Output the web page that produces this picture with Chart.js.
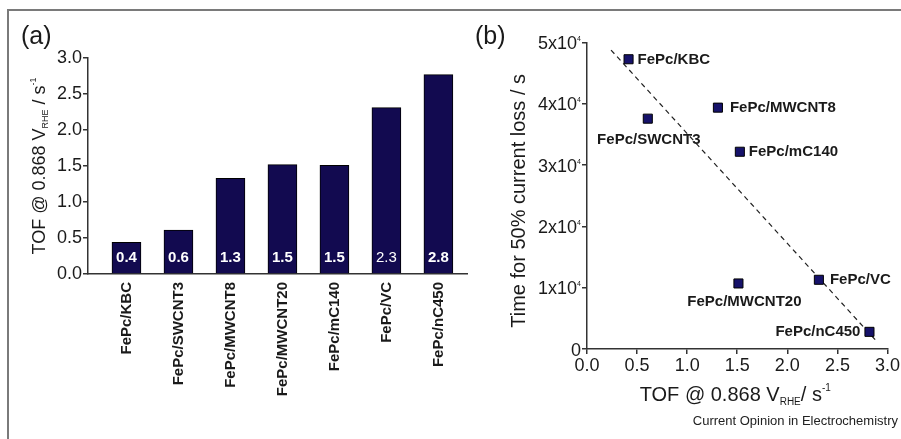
<!DOCTYPE html>
<html>
<head>
<meta charset="utf-8">
<script src="https://cdn.jsdelivr.net/npm/chart.js@4/dist/chart.umd.min.js"></script>
<style>
  html, body { margin: 0; padding: 0; background: #fff; }
  #page { position: relative; width: 901px; height: 439px; overflow: hidden; }
  #frame { position: absolute; left: 7px; top: 9px; width: 900px; height: 440px;
           border-top: 2px solid #7a7a7a; border-left: 2px solid #7a7a7a; }
  canvas { position: absolute; top: 0; }
  #chartA { left: 0; }
  #chartB { left: 480px; }
  .txt { position: absolute; font-family: "Liberation Sans", Arial, sans-serif; color: #1a1a1a; }
</style>
</head>
<body>
<div id="page">
  <div id="frame"></div>
  <canvas id="chartA" width="480" height="439"></canvas>
  <canvas id="chartB" width="421" height="439"></canvas>
  <div class="txt" style="left:21px; top:21px; font-size:25px;">(a)</div>
  <div class="txt" style="left:475px; top:21px; font-size:25px;">(b)</div>
  <div class="txt" style="right:3px; top:413px; font-size:13px; color:#222;">Current Opinion in Electrochemistry</div>
</div>
<script>
// panel (a): TOF per catalyst
const categories = ["FePc/KBC", "FePc/SWCNT3", "FePc/MWCNT8", "FePc/MWCNT20", "FePc/mC140", "FePc/VC", "FePc/nC450"];
const tofBar = [0.44, 0.61, 1.33, 1.52, 1.51, 2.31, 2.77];
const barLabels = ["0.4", "0.6", "1.3", "1.5", "1.5", "2.3", "2.8"];

// panel (b): stability vs TOF (same order as categories)
const scatterTof = [0.415, 0.607, 1.307, 1.512, 1.526, 2.315, 2.82];
const lifetime = [47300, 37600, 39400, 10700, 32200, 11300, 2800];
const fitTof = [0.24, 2.9];
const fitLife = [48800, 1100];

const yTicksA = [0, 0.5, 1.0, 1.5, 2.0, 2.5, 3.0];
const xTicksB = [0, 0.5, 1.0, 1.5, 2.0, 2.5, 3.0];
const yTicksB = [0, 10000, 20000, 30000, 40000, 50000];

const FONT = '"Liberation Sans", Arial, sans-serif';
const INK = "#1a1a1a";
const NAVY = "#120a50";

// draw text made of parts (sub/superscripts), left to right from x
function richWidth(ctx, parts) {
    let w = 0;
    parts.forEach(p => {
        ctx.font = (p.bold ? "bold " : "") + p.size + "px " + FONT;
        w += ctx.measureText(p.t).width;
    });
    return w;
}
function drawRich(ctx, parts, x, y, align) {
    let w = richWidth(ctx, parts);
    let cx = align === "center" ? x - w / 2 : (align === "right" ? x - w : x);
    ctx.textAlign = "left";
    ctx.textBaseline = "alphabetic";
    parts.forEach(p => {
        ctx.font = (p.bold ? "bold " : "") + p.size + "px " + FONT;
        ctx.fillText(p.t, cx, y + (p.dy || 0));
        cx += ctx.measureText(p.t).width;
    });
}

const barText = {
    id: "barText",
    afterDraw(chart) {
        const ctx = chart.ctx;
        const yScale = chart.scales.y;
        const meta = chart.getDatasetMeta(0);
        const bold = [true, true, true, true, true, false, true];
        ctx.save();
        ctx.fillStyle = "#fff";
        ctx.textAlign = "center";
        ctx.textBaseline = "middle";
        meta.data.forEach((el, i) => {
            ctx.font = (bold[i] ? "bold " : "") + "15px " + FONT;
            ctx.fillText(barLabels[i], el.x, yScale.getPixelForValue(0) - 16.5);
        });
        // y axis title
        ctx.fillStyle = INK;
        const area = chart.chartArea;
        ctx.translate(45, (area.top + area.bottom) / 2);
        ctx.rotate(-Math.PI / 2);
        drawRich(ctx, [
            {t: "TOF @ 0.868 V", size: 18},
            {t: "RHE", size: 9, dy: 3},
            {t: " / s", size: 18},
            {t: "-1", size: 9, dy: -9}
        ], 0, 0, "center");
        ctx.restore();
    }
};

new Chart(document.getElementById("chartA"), {
    type: "bar",
    data: {
        datasets: [{
            data: tofBar.map((v, i) => ({x: i, y: v})),
            backgroundColor: NAVY,
            borderColor: "#000",
            borderWidth: 1,
            barThickness: 29
        }]
    },
    options: {
        responsive: false,
        animation: false,
        layout: {padding: {left: 0, top: 58, right: 13, bottom: 0}},
        plugins: {legend: {display: false}, tooltip: {enabled: false}},
        scales: {
            x: {
                type: "linear",
                offset: false,
                min: -0.74,
                max: 6.55,
                afterFit: s => { s.height = 439 - 274; },
                afterBuildTicks: s => { s.ticks = categories.map((c, i) => ({value: i})); },
                grid: {display: false},
                border: {color: "#333", width: 1.5},
                ticks: {
                    autoSkip: false,
                    minRotation: 90,
                    maxRotation: 90,
                    padding: 0,
                    color: INK,
                    font: {family: FONT, size: 15, weight: "bold"},
                    callback: v => categories[v]
                }
            },
            y: {
                min: 0,
                max: 3,
                afterFit: s => { s.width = 88; },
                afterBuildTicks: s => { s.ticks = yTicksA.map(v => ({value: v})); },
                grid: {drawOnChartArea: false, tickLength: 5, color: "#333", lineWidth: 1.5},
                border: {color: "#333", width: 1.5},
                ticks: {
                    padding: 1,
                    color: INK,
                    font: {family: FONT, size: 18},
                    callback: v => v.toFixed(1)
                }
            }
        }
    },
    plugins: [barText]
});

const scatterText = {
    id: "scatterText",
    afterDraw(chart) {
        const ctx = chart.ctx;
        const meta = chart.getDatasetMeta(0);
        // where each point label sits relative to its marker
        const place = [
            {side: "right", d: 9},
            {side: "below", d: 21, dx: 1},
            {side: "right", d: 12},
            {side: "below", d: 18, dx: 6},
            {side: "right", d: 9},
            {side: "right", d: 11},
            {side: "left", d: 9}
        ];
        ctx.save();
        ctx.fillStyle = INK;
        ctx.font = "bold 15px " + FONT;
        ctx.textBaseline = "middle";
        meta.data.forEach((el, i) => {
            const p = place[i];
            if (p.side === "right") {
                ctx.textAlign = "left";
                ctx.fillText(categories[i], el.x + p.d, el.y + 0.5);
            } else if (p.side === "left") {
                ctx.textAlign = "right";
                ctx.fillText(categories[i], el.x - p.d, el.y + 0.5);
            } else {
                ctx.textAlign = "center";
                ctx.fillText(categories[i], el.x + p.dx, el.y + p.d);
            }
        });

        // y tick labels with powers of ten
        const ys = chart.scales.y;
        ys.ticks.forEach(t => {
            const py = ys.getPixelForValue(t.value);
            const x = ys.right - 6;
            if (t.value === 0) {
                drawRich(ctx, [{t: "0", size: 18}], x, py + 6.5, "right");
            } else {
                drawRich(ctx, [
                    {t: (t.value / 10000) + "x10", size: 18},
                    {t: "4", size: 7, dy: -8}
                ], x, py + 6.5, "right");
            }
        });

        // axis titles
        const area = chart.chartArea;
        drawRich(ctx, [
            {t: "TOF @ 0.868 V", size: 20},
            {t: "RHE", size: 10, dy: 4},
            {t: "/ s", size: 20},
            {t: "-1", size: 10, dy: -10}
        ], (area.left + area.right) / 2 - 2, 401, "center");
        ctx.translate(45, (area.top + area.bottom) / 2 + 5);
        ctx.rotate(-Math.PI / 2);
        drawRich(ctx, [{t: "Time for 50% current loss / s", size: 20}], 0, 0, "center");
        ctx.restore();
    }
};

new Chart(document.getElementById("chartB"), {
    type: "scatter",
    data: {
        datasets: [
            {
                data: scatterTof.map((x, i) => ({x: x, y: lifetime[i]})),
                pointStyle: "rect",
                pointRadius: 6.4,
                backgroundColor: "#16126a",
                borderColor: "#000",
                borderWidth: 1
            },
            {
                type: "line",
                data: fitTof.map((x, i) => ({x: x, y: fitLife[i]})),
                borderColor: "#222",
                borderWidth: 1.2,
                borderDash: [5, 4],
                pointRadius: 0,
                fill: false
            }
        ]
    },
    options: {
        responsive: false,
        animation: false,
        layout: {padding: {left: 0, top: 42.7, right: 12.3, bottom: 0}},
        plugins: {legend: {display: false}, tooltip: {enabled: false}},
        scales: {
            x: {
                type: "linear",
                min: 0,
                max: 3,
                afterFit: s => { s.height = 439 - 349; },
                afterBuildTicks: s => { s.ticks = xTicksB.map(v => ({value: v})); },
                grid: {drawOnChartArea: false, tickLength: 5, color: "#333", lineWidth: 1.5},
                border: {color: "#333", width: 1.5},
                ticks: {
                    padding: 1,
                    color: INK,
                    font: {family: FONT, size: 18},
                    callback: v => v.toFixed(1)
                }
            },
            y: {
                min: 0,
                max: 50000,
                afterFit: s => { s.width = 107; },
                afterBuildTicks: s => { s.ticks = yTicksB.map(v => ({value: v})); },
                grid: {drawOnChartArea: false, tickLength: 5, color: "#333", lineWidth: 1.5},
                border: {color: "#333", width: 1.5},
                ticks: {display: false}
            }
        }
    },
    plugins: [scatterText]
});
</script>
</body>
</html>
